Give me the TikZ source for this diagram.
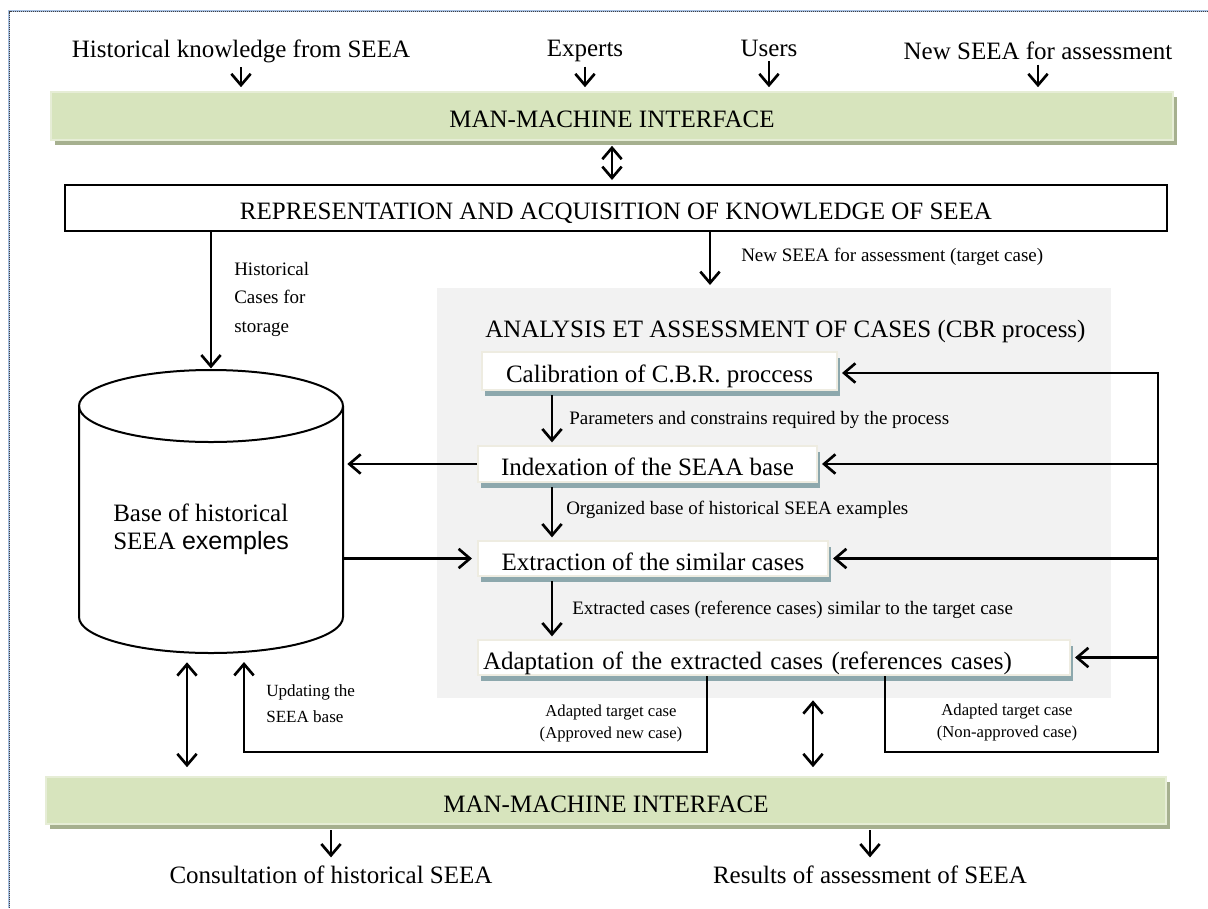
\documentclass[tikz,border=0pt]{standalone}
\usepackage{fontspec}
\setmainfont{Liberation Serif}
\newfontfamily\arialf{Liberation Sans}
\usetikzlibrary{arrows.meta,shadows,calc}
\definecolor{bandgreen}{HTML}{D7E4BD}
\definecolor{bandshadow}{HTML}{A6B08F}
\definecolor{bandedge}{HTML}{E6EDD6}
\definecolor{panelgray}{HTML}{F2F2F2}
\definecolor{boxedge}{HTML}{EEECE1}
\definecolor{boxshadow}{HTML}{8DA8AD}
\definecolor{frameblue}{HTML}{A7C0E2}
\tikzset{
  bigtext/.style={font=\fontsize{18.75}{22.5}\selectfont},
  capfix/.style={text height=17.7pt, text depth=0pt},
  lbl/.style={font=\fontsize{14.25}{21.4}\selectfont, inner sep=0pt},
  slbl/.style={font=\fontsize{12.5}{16.5}\selectfont, inner sep=0pt, align=center},
  arr/.style={line width=2pt, -{Straight Barb[length=8.5pt,width=14.5pt]}},
  darr/.style={line width=2pt, {Straight Barb[length=8.5pt,width=14.5pt]}-{Straight Barb[length=8.5pt,width=14.5pt]}},
  band/.style={fill=bandgreen, draw=bandedge, line width=1.2pt, inner sep=0pt, bigtext, capfix,
    general shadow={fill=bandshadow, shadow xshift=3pt, shadow yshift=-4pt}},
  reprbox/.style={fill=white, draw=black, line width=1.5pt, inner sep=0pt, bigtext, capfix},
  stepbox/.style={fill=white, draw=boxedge, line width=1.5pt, inner sep=0pt, bigtext, capfix,
    general shadow={fill=boxshadow, shadow xshift=2pt, shadow yshift=-4.5pt}},
}
\begin{document}
\begin{tikzpicture}[x=0.75pt,y=-0.75pt]
\path[use as bounding box] (0,0) rectangle (1208,908);
% page frame
\draw[frameblue, line width=1.3pt] (9,908) -- (9,11) -- (1208,11);
\draw[black!75, line width=0.8pt, dash pattern=on 0.6pt off 0.9pt] (9.5,908) -- (9.5,11.5) -- (1208,11.5);

% top inputs
\node[bigtext] (hk) at (241,51) {Historical knowledge from SEEA};
\node[bigtext] (ex) at (585,51) {Experts};
\node[bigtext] (us) at (769,48) {Users};
\node[bigtext] (ns) at (1038,51) {New SEEA for assessment};

% top interface band
\node[band, minimum width=841.5pt, minimum height=36pt] (mmi1) at (612,116) {MAN-MACHINE INTERFACE};
\draw[arr, shorten >=3pt] (hk.south) -- (hk.south |- mmi1.north);
\draw[arr, shorten >=3pt] (ex.south) -- (ex.south |- mmi1.north);
\draw[arr, shorten >=3pt] (us.south) -- (us.south |- mmi1.north);
\draw[arr, shorten >=3pt] (ns.south) -- (ns.south |- mmi1.north);

% representation box
\node[reprbox, minimum width=826.5pt, minimum height=34.5pt] (repr) at (616,208) {REPRESENTATION AND ACQUISITION OF KNOWLEDGE OF SEEA};
\coordinate (tx) at (612,0);
\draw[darr, shorten <=3.75pt, shorten >=3pt] (mmi1.south -| tx) -- (repr.north -| tx);

% grey panel
\node[fill=panelgray, minimum width=505.5pt, minimum height=307.5pt, inner sep=0pt] (panel) at (774,493) {};
\node[bigtext, anchor=west, inner sep=0pt] (ttl) at (485,331) {ANALYSIS ET ASSESSMENT OF CASES (CBR process)};

\coordinate (tgt) at (710,288);
\draw[arr, shorten >=2.25pt] (repr.south -| tgt) -- (tgt);
\node[lbl, anchor=west] (nsl) at (741,256.5) {New SEEA for assessment (target case)};

% process boxes
\node[stepbox, minimum width=266.25pt, minimum height=28.5pt] (cal) at (659.5,371) {Calibration of C.B.R. proccess};
\node[stepbox, minimum width=254.25pt, minimum height=27pt] (idx) at (647.5,464) {Indexation of the SEAA base};
\node[stepbox, minimum width=262.5pt, minimum height=26.25pt] (ext) at (653,558.5) {Extraction of the similar cases};
\node[stepbox, minimum height=26.25pt, inner xsep=3.75pt, text width=436.5pt, align=left] (ada) at (774,657.5) {Adaptation of the extracted cases (references cases)};

\coordinate (vx) at (552,0);
\draw[arr, shorten <=3pt, shorten >=2pt] (cal.south -| vx) -- (idx.north -| vx);
\node[lbl, anchor=west] (l1) at (569,420) {Parameters and constrains required by the process};
\draw[arr, shorten <=3pt, shorten >=2pt] (idx.south -| vx) -- (ext.north -| vx);
\node[lbl, anchor=west] (l2) at (566,510) {Organized base of historical SEEA examples};
\draw[arr, shorten <=3pt, shorten >=2pt] (ext.south -| vx) -- (ada.north -| vx);
\node[lbl, anchor=west] (l3) at (572,609.5) {Extracted cases (reference cases) similar to the target case};

% cylinder (base of examples)
\draw[line width=1.5pt, fill=white] (79,406) -- (79,617) arc[start angle=180, end angle=0, x radius=132, y radius=36] -- (343,406);
\draw[line width=1.5pt] (211,406) ellipse [x radius=132, y radius=36];
\node[minimum width=198pt, minimum height=212.25pt, inner sep=0pt] (cyl) at (211,511.5) {};
\node[anchor=west, align=left, inner sep=0pt, font=\fontsize{18.75}{21}\selectfont] (basetxt) at (113,529) {Base of historical\\SEEA {\arialf exemples}};

\draw[arr, shorten >=1pt] (repr.south -| cyl.north) -- (cyl.north);
\node[lbl, anchor=west, align=left] (hcs) at (234,299) {Historical\\Cases for\\storage};

\draw[arr, shorten >=3pt] (idx.west) -- (idx.west -| cyl.east);
\draw[arr, shorten >=3.75pt] (cyl.east |- ext.west) -- (ext.west);

% feedback of non-approved cases
\coordinate (nb) at (885,752);
\coordinate (rb) at (1158,752);
\coordinate (rt) at (1158,373);
\draw[arr, shorten >=3pt] (ada.south -| nb) -- (nb) -- (rb) -- (rt) -- (rt -| cal.east);
\draw[arr, shorten >=3pt] (rt |- idx.east) -- (idx.east);
\draw[arr, shorten >=3pt] (rt |- ext.east) -- (ext.east);
\draw[arr, shorten >=3pt] (rt |- ada.east) -- (ada.east);
\node[slbl] (nal) at (1007,722.5) {Adapted target case\\(Non-approved case)};

% approved cases update the base
\coordinate (ab) at (707,752);
\coordinate (lb) at (244,752);
\coordinate (upd) at (244,662);
\draw[arr] (ada.south -| ab) -- (ab) -- (lb) -- (upd);
\node[slbl] (apl) at (611,723.5) {Adapted target case\\(Approved new case)};
\node[slbl, anchor=west, align=left, font=\fontsize{12.8}{20}\selectfont] (upl) at (266,703.5) {Updating the\\SEEA base};

% bottom interface band
\node[band, minimum width=840pt, minimum height=35.25pt] (mmi2) at (606,800.5) {MAN-MACHINE INTERFACE};
\coordinate (lx) at (187,0);
\draw[darr, shorten <=6.75pt, shorten >=6.75pt] (cyl.south -| lx) -- (mmi2.north -| lx);
\coordinate (mx) at (813,0);
\draw[darr, shorten <=1.5pt, shorten >=6.75pt] (panel.south -| mx) -- (mmi2.north -| mx);

\node[bigtext] (cons) at (331,875) {Consultation of historical SEEA};
\node[bigtext] (res) at (870,875) {Results of assessment of SEEA};
\draw[arr, shorten <=4pt, shorten >=3pt] (mmi2.south -| cons) -- (cons.north);
\draw[arr, shorten <=4pt, shorten >=3pt] (mmi2.south -| res) -- (res.north);
\end{tikzpicture}
\end{document}
